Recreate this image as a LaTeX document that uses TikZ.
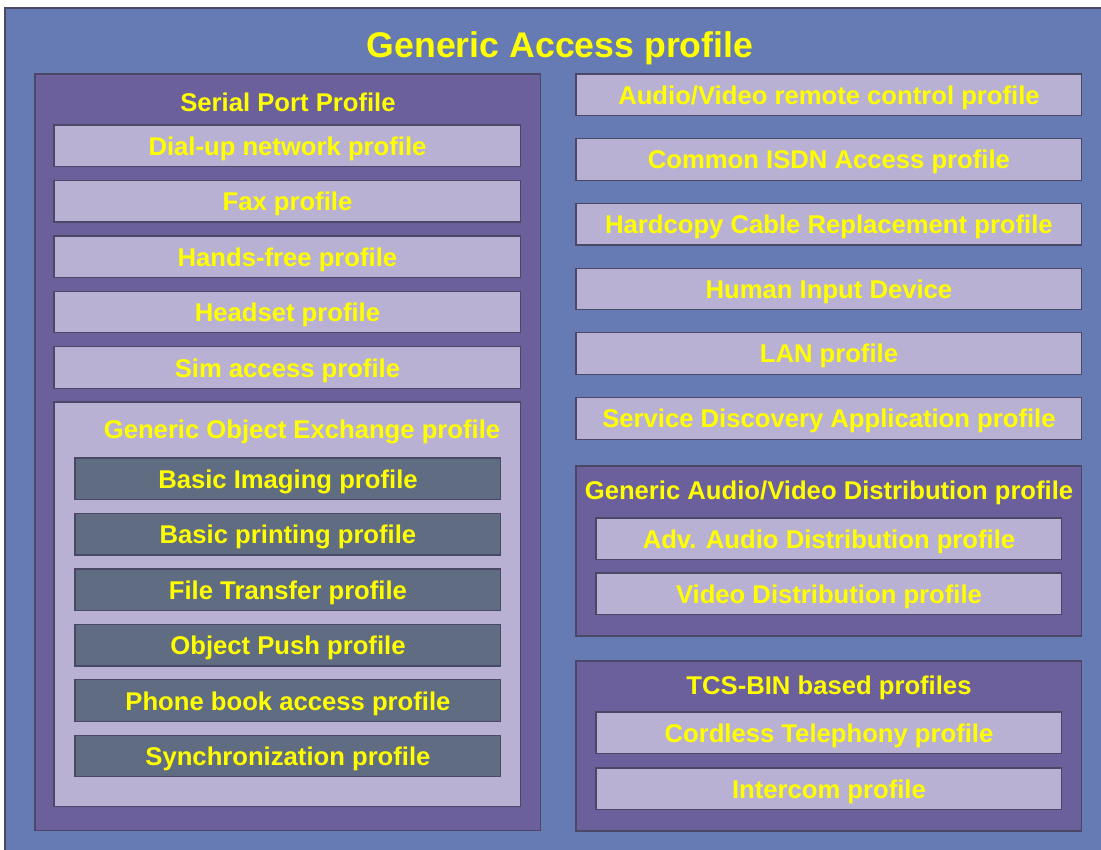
\documentclass[tikz,border=0pt]{standalone}
\usepackage{fontspec}
\setmainfont{Liberation Sans}
\usetikzlibrary{positioning}
\definecolor{gapblue}{HTML}{667BB3}
\definecolor{grouppurple}{HTML}{6B5F9C}
\definecolor{proflilac}{HTML}{B8B1D4}
\definecolor{objslate}{HTML}{5F6C82}
\definecolor{edgegray}{HTML}{4A4866}
\definecolor{textyellow}{HTML}{FFFF00}
\tikzset{
  base box/.style={draw=edgegray,line width=0.6pt,inner sep=0pt,outer sep=0pt,text depth=0pt},
  group box/.style={base box,fill=grouppurple,anchor=north west},
  prof box/.style={base box,fill=proflilac,minimum height=0.83cm,text=textyellow,
    font=\bfseries\fontsize{14.6}{17}\selectfont},
  obj box/.style={prof box,fill=objslate,minimum width=8.52cm},
  group title/.style={text=textyellow,text depth=0pt,font=\bfseries\fontsize{14.6}{17}\selectfont},
  left prof/.style={prof box,minimum width=9.34cm},
  right prof/.style={prof box,minimum width=10.12cm},
  inner prof/.style={prof box,minimum width=9.32cm}
}
\begin{document}
\begin{tikzpicture}[x=0.02cm,y=-0.02cm]
  \useasboundingbox (0,0) rectangle (1101,849);
  % outer frame
  \node [base box,fill=gapblue,anchor=north west,minimum width=22.2cm,minimum height=17.1cm] (gap) at (5,8) {};
  \node [text=textyellow,text depth=0pt,font=\bfseries\fontsize{20.3}{24}\selectfont] (gaptitle) at (560,45) {Generic Access profile};

  % serial port column
  \node [group box,minimum width=10.12cm,minimum height=15.14cm] (spp) at (35,74) {};
  \node [group title] (spptitle) at (288,102) {Serial Port Profile};
  \node [left prof,anchor=north west] (dun) at (54,125) {Dial-up network profile};
  \node [left prof,below=0.28cm of dun] (fax) {Fax profile};
  \node [left prof,below=0.28cm of fax] (hfp) {Hands-free profile};
  \node [left prof,below=0.28cm of hfp] (hsp) {Headset profile};
  \node [left prof,below=0.28cm of hsp] (sap) {Sim access profile};

  \node [base box,fill=proflilac,anchor=north west,minimum width=9.34cm,minimum height=8.1cm] (goep) at (54,402) {};
  \node [group title] (goeptitle) at (302,429) {Generic Object Exchange profile};
  \node [obj box,anchor=north west] (bip) at (75,458) {Basic Imaging profile};
  \node [obj box,below=0.28cm of bip] (bpp) {Basic printing profile};
  \node [obj box,below=0.28cm of bpp] (ftp) {File Transfer profile};
  \node [obj box,below=0.28cm of ftp] (opp) {Object Push profile};
  \node [obj box,below=0.28cm of opp] (pbap) {Phone book access profile};
  \node [obj box,below=0.28cm of pbap] (sync) {Synchronization profile};

  % right column
  \node [right prof,anchor=north west] (avrcp) at (576,74) {Audio/Video remote control profile};
  \node [right prof,below=0.465cm of avrcp] (cip) {Common ISDN Access profile};
  \node [right prof,below=0.465cm of cip] (hcrp) {Hardcopy Cable Replacement profile};
  \node [right prof,below=0.465cm of hcrp] (hid) {Human Input Device};
  \node [right prof,below=0.465cm of hid] (lan) {LAN profile};
  \node [right prof,below=0.465cm of lan] (sdap) {Service Discovery Application profile};

  \node [group box,minimum width=10.12cm,minimum height=3.4cm] (gavdp) at (576,466) {};
  \node [group title] (gavdptitle) at (829,490) {Generic Audio/Video Distribution profile};
  \node [inner prof,anchor=north west] (a2dp) at (596,518) {Adv. Audio Distribution profile};
  \node [inner prof,below=0.27cm of a2dp] (vdp) {Video Distribution profile};

  \node [group box,minimum width=10.12cm,minimum height=3.4cm] (tcs) at (576,661) {};
  \node [group title] (tcstitle) at (829,685) {TCS-BIN based profiles};
  \node [inner prof,anchor=north west] (ctp) at (596,712) {Cordless Telephony profile};
  \node [inner prof,below=0.29cm of ctp] (icp) {Intercom profile};
\end{tikzpicture}
\end{document}
